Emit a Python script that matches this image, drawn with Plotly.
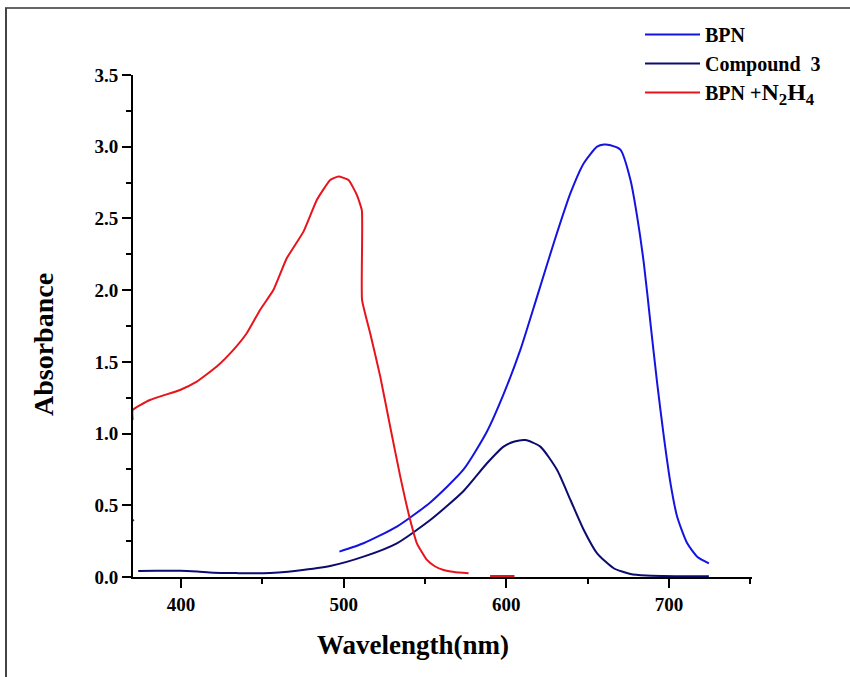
import plotly.graph_objects as go

# ---- data ----
bpn_x = [370.3, 370.9, None, 497.4, 512.2, 532.7, 553.2, 573.7, 588.1, 598.3, 608.6, 618.9, 629.1,
         639.4, 647.6, 655.8, 660.0, 664.0, 670.2, 676.3, 680.4, 684.5, 688.6, 692.7, 696.8,
         700.9, 705.0, 711.2, 717.3, 724.5]
bpn_y = [0.40, 0.39, None, 0.177, 0.235, 0.351, 0.520, 0.750, 1.015, 1.275, 1.583, 1.955, 2.327,
         2.676, 2.885, 3.001, 3.015, 3.010, 2.978, 2.768, 2.513, 2.188, 1.769, 1.351, 0.978,
         0.653, 0.420, 0.235, 0.142, 0.095]

c3_x = [373.7, 385.0, 399.4, 410.0, 419.9, 435.0, 450.6, 460.0, 471.2, 491.7, 512.2, 532.7,
        553.2, 573.7, 588.1, 598.3, 605.0, 611.7, 620.9, 631.2, 639.4, 647.6, 655.8, 666.0,
        676.3, 686.0, 696.8, 710.0, 724.5]
c3_y = [0.042, 0.043, 0.044, 0.038, 0.030, 0.027, 0.026, 0.032, 0.044, 0.077, 0.142, 0.235,
        0.397, 0.600, 0.793, 0.909, 0.945, 0.955, 0.909, 0.746, 0.537, 0.328, 0.165, 0.061,
        0.021, 0.010, 0.007, 0.005, 0.005]

red_x = [370.3, 370.3, 380.9, 399.4, 409.7, 422.0, 432.2, 440.4, 448.6, 456.8, 465.0, 475.3,
         483.5, 491.7, 496.8, 503.0, 508.1, 511.2, 511.3, 516.3, 522.5, 528.6, 534.8, 540.9,
         545.0, 551.2, 556.0, 561.4, 568.0, 576.8, None, 590.0, 605.0]
red_y = [1.095, 1.165, 1.234, 1.304, 1.362, 1.467, 1.583, 1.699, 1.862, 2.001, 2.222, 2.408,
         2.629, 2.768, 2.792, 2.768, 2.664, 2.554, 1.932, 1.699, 1.397, 1.048, 0.700, 0.397,
         0.235, 0.119, 0.075, 0.049, 0.035, 0.026, None, 0.007, 0.007]

x_ticks = [400, 500, 600, 700]
y_ticks = [0.0, 0.5, 1.0, 1.5, 2.0, 2.5, 3.0, 3.5]

FONT = "Liberation Serif"

fig = go.Figure()
fig.add_trace(go.Scatter(x=bpn_x, y=bpn_y, mode="lines", name="BPN",
                         line=dict(color="#1414e0", width=2, shape="spline", smoothing=0.6)))
fig.add_trace(go.Scatter(x=c3_x, y=c3_y, mode="lines", name="Compound  3",
                         line=dict(color="#0c0c70", width=2, shape="spline", smoothing=0.6)))
fig.add_trace(go.Scatter(x=red_x, y=red_y, mode="lines",
                         name="BPN +<span style='font-size:24px'>N<sub>2</sub>H<sub>4</sub></span>",
                         line=dict(color="#e8141c", width=2, shape="spline", smoothing=0.4)))

axis_common = dict(showline=True, linecolor="black", linewidth=2, ticks="outside",
                   ticklen=9, tickwidth=2, tickcolor="black", showgrid=False, zeroline=False,
                   tickfont=dict(family=FONT, size=19, color="black", weight="bold"))

fig.update_xaxes(range=[370.5, 751], tickvals=x_ticks, ticktext=[str(v) for v in x_ticks],
                 minor=dict(ticks="outside", ticklen=5, tickwidth=2, tickcolor="black", dtick=50,
                            tick0=0),
                 **axis_common)
fig.update_yaxes(range=[0, 3.5], tickvals=y_ticks, ticktext=[f"{v:.1f}" for v in y_ticks],
                 minor=dict(ticks="outside", ticklen=5, tickwidth=2, tickcolor="black", dtick=0.25,
                            tick0=0),
                 **axis_common)

W, H = 850, 677
L, R, T, B = 133, 98, 75, 100
pw, ph = W - L - R, H - T - B

def px2x(px):
    return (px - L) / pw

def py2y(py):
    return (H - B - py) / ph

fig.update_layout(
    width=W, height=H,
    margin=dict(l=L, r=R, t=T, b=B),
    paper_bgcolor="white", plot_bgcolor="white",
    font=dict(family=FONT, color="black"),
    legend=dict(x=px2x(640), y=py2y(15), xanchor="left", yanchor="top",
                bgcolor="rgba(0,0,0,0)", font=dict(family=FONT, size=20, color="black",
                                                    weight="bold"),
                itemwidth=55, tracegroupgap=0),
    showlegend=True,
    annotations=[
        dict(text="<b>Wavelength(nm)</b>", x=px2x(413), y=py2y(645), xref="paper", yref="paper",
             showarrow=False, font=dict(family=FONT, size=27, color="black"),
             xanchor="center", yanchor="middle"),
        dict(text="<b>Absorbance</b>", x=px2x(43), y=py2y(345), xref="paper", yref="paper",
             showarrow=False, textangle=-90, font=dict(family=FONT, size=28, color="black"),
             xanchor="center", yanchor="middle"),
    ],
    shapes=[
        dict(type="line", xref="paper", yref="paper", x0=px2x(5), x1=px2x(850),
             y0=py2y(8), y1=py2y(8), line=dict(color="#666666", width=2)),
        dict(type="line", xref="paper", yref="paper", x0=px2x(6), x1=px2x(6),
             y0=py2y(8), y1=py2y(677), line=dict(color="#444444", width=2)),
    ],
)

fig.write_html("out.html")
